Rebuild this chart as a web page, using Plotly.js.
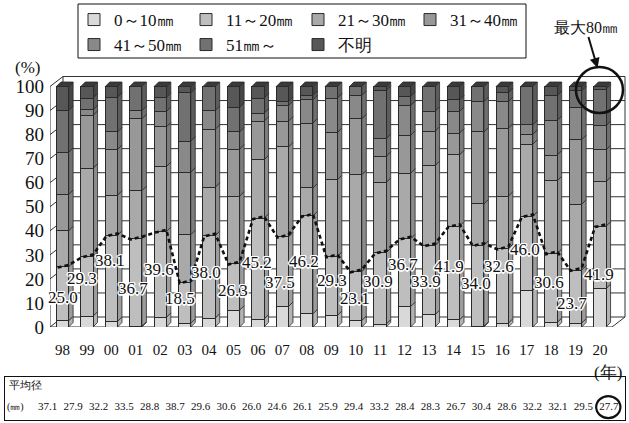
<!DOCTYPE html>
<html><head><meta charset="utf-8">
<script src="https://cdn.plot.ly/plotly-3.0.1.min.js"></script>
<style>html,body{margin:0;padding:0;background:#fff}#chart{width:629px;height:423px}</style>
</head><body><div id="chart"></div>
<script>
// ---------------- data ----------------
const years = ['98','99','00','01','02','03','04','05','06','07','08','09','10','11','12','13','14','15','16','17','18','19','20'];
const sizeClasses = ['0～10㎜','11～20㎜','21～30㎜','31～40㎜','41～50㎜','51㎜～','不明'];
const share0to10  = [2.6,4.5,2.3,0.3,4.0,1.5,3.7,7.0,3.3,8.5,5.5,4.8,2.7,1.2,8.5,5.1,3.0,0.3,1.6,15.3,1.9,1.6,16.0];
const share11to20 = [22.4,24.8,35.8,36.4,35.6,17.0,34.3,19.3,41.9,29.0,40.7,24.5,20.4,29.7,28.2,28.8,38.9,33.7,31.0,30.7,28.7,22.1,25.9];
const share21to30 = [15.0,36.7,16.7,20.0,27.1,19.9,20.1,28.1,24.3,37.4,11.6,31.9,40.2,29.2,27.3,33.2,29.7,17.2,21.8,30.0,30.2,27.3,18.6];
const share31to40 = [15.1,22.0,19.0,29.9,16.5,26.0,24.1,19.6,16.1,10.7,27.0,19.6,23.3,10.9,15.7,14.3,9.0,29.9,28.3,4.1,10.7,26.9,13.1];
const share41to50 = [17.5,2.3,7.3,3.4,6.4,12.9,7.8,7.1,3.3,6.5,9.7,14.4,9.7,7.3,12.4,8.3,9.0,12.6,11.0,4.0,14.4,13.5,10.2];
const share51up   = [17.4,4.9,14.4,10.0,5.9,20.0,10.0,10.3,6.3,1.6,1.7,4.8,3.7,20.1,3.8,10.3,4.8,6.3,3.8,15.9,10.3,6.8,15.1];
const shareUnknown= [10.0,4.8,4.5,0,4.5,2.7,0,8.6,4.8,6.3,3.8,0,0,1.6,4.1,0,5.6,0,2.5,0,3.8,1.8,1.1];
const under20Pct  = [25.0,29.3,38.1,36.7,39.6,18.5,38.0,26.3,45.2,37.5,46.2,29.3,23.1,30.9,36.7,33.9,41.9,34.0,32.6,46.0,30.6,23.7,41.9];
const meanDiameter= [37.1,27.9,32.2,33.5,28.8,38.7,29.6,30.6,26.0,24.6,26.1,25.9,29.4,33.2,28.4,28.3,26.7,30.4,28.6,32.2,32.1,29.5,27.7];
const yTicks = [0,10,20,30,40,50,60,70,80,90,100];

// ---------------- styles / geometry ----------------
const series = [share0to10, share11to20, share21to30, share31to40, share41to50, share51up, shareUnknown];
const fills = ['#d9d9d9','#bebebe','#a9a9a9','#989898','#898989','#717171','#575757'];
const sideFills = ['#b3b3b3','#9c9c9c','#8b8b8b','#7c7c7c','#6f6f6f','#5c5c5c','#464646'];
const labelDx = [0,-5,-1,-3,-1,-5,-3,-1,-1,-2,-3,1,-1,-2,-2,-3,-4,-2,-3,-2,-2,-4,-1];
const labelDy = [31,22,25,50,38,16,37,27,44,46,46,24,27,29,26,36,40,38,18,33,29,33,48];
const W = 629, H = 423;
const PX_X = 24.43, PX_Y = 2.405;
const plotL = 50, plotR = 629, plotB = 327, plotT = 60;
const firstCenter = 62.5;
const xRange = [-(firstCenter - plotL) / PX_X, (plotR - firstCenter) / PX_X];
const yRange = [0, (plotB - plotT) / PX_Y];
const xFrontRight = (612 - firstCenter) / PX_X;
const WDX = 13 / PX_X, WDY = 10 / PX_Y;      // wall depth
const BDX = 4.5 / PX_X, BDY = 4.5 / PX_Y;    // bar depth
const BW = 0.25;                              // half bar width
const SERIF = 'Liberation Serif';
const xIdx = years.map((_, i) => i);

const traces = [];
series.forEach((vals, k) => {
  traces.push({
    type: 'bar', name: sizeClasses[k], x: xIdx, y: vals, width: BW * 2,
    marker: {color: fills[k], line: {color: '#2a2a2a', width: 1}},
    legend: k < 4 ? 'legend' : 'legend2', hoverinfo: 'skip'
  });
});
// dashed line: share of particles up to 20 mm
const lx = [], ly = [];
under20Pct.forEach((v, i) => { lx.push(i - 0.2, i + 0.25); ly.push(v - 0.3, v + 0.8); });
traces.push({type: 'scatter', mode: 'lines', x: lx, y: ly, showlegend: false, hoverinfo: 'skip',
  line: {color: '#111', width: 2.6, dash: '4px,3px'}});
// table of mean diameters
traces.push({type: 'scatter', mode: 'text', x: xIdx, y: xIdx.map(() => 0.3), xaxis: 'x2', yaxis: 'y2',
  text: meanDiameter.map(v => v.toFixed(1)), showlegend: false, hoverinfo: 'skip', cliponaxis: false,
  textfont: {family: SERIF, size: 11, color: '#111'}});

const shapes = [];
const L = (x0, y0, x1, y1, layer) => shapes.push({type: 'line', xref: 'x', yref: 'y', x0, y0, x1, y1,
  layer: layer || 'below', line: {color: '#333', width: 1}});
yTicks.forEach(v => {
  L(xRange[0] + WDX, v + WDY, xFrontRight + WDX, v + WDY);
  L(xRange[0], v, xRange[0] + WDX, v + WDY);
});
L(xRange[0], 0, xRange[0], 100);
L(xRange[0] + WDX, WDY, xRange[0] + WDX, 100 + WDY);
L(xFrontRight + WDX, WDY, xFrontRight + WDX, 100 + WDY);
L(xRange[0], 0, xFrontRight, 0);
L(xFrontRight, 0, xFrontRight + WDX, WDY);

xIdx.forEach(i => {
  let base = 0;
  series.forEach((vals, k) => {
    const v = vals[i];
    if (v <= 0) return;
    const t = base + v;
    const xr = i + BW;
    shapes.push({type: 'path', xref: 'x', yref: 'y', layer: 'between',
      path: `M${xr},${base} L${xr + BDX},${base + BDY} L${xr + BDX},${t + BDY} L${xr},${t} Z`,
      fillcolor: sideFills[k], line: {color: '#2a2a2a', width: 0.8}});
    base = t;
  });
  const xl = i - BW, xr = i + BW;
  shapes.push({type: 'path', xref: 'x', yref: 'y', layer: 'between',
    path: `M${xl},${base} L${xl + BDX},${base + BDY} L${xr + BDX},${base + BDY} L${xr},${base} Z`,
    fillcolor: '#3a3a3a', line: {color: '#2a2a2a', width: 0.8}});
});
shapes.push({type: 'circle', xref: 'x', yref: 'y', layer: 'above', xsizemode: 'pixel', ysizemode: 'pixel',
  xanchor: 22, yanchor: (plotB - 90) / PX_Y, x0: -24, x1: 23, y0: -23, y1: 23, line: {color: '#111', width: 2.5}});
shapes.push({type: 'circle', xref: 'x2', yref: 'y2', layer: 'above', ysizemode: 'pixel',
  yanchor: 0.3, x0: 21.5, x1: 22.45, y0: -11, y1: 11, line: {color: '#111', width: 2.2}});
shapes.push({type: 'rect', xref: 'paper', yref: 'paper', x0: 78 / W, x1: 526 / W, y0: 1 - 58 / H, y1: 1 - 4 / H,
  line: {color: '#111', width: 1}, fillcolor: 'rgba(0,0,0,0)', layer: 'above'});

const halo = '1px 1px 0 #fff,-1px -1px 0 #fff,1px -1px 0 #fff,-1px 1px 0 #fff,0 1.5px 0 #fff,1.5px 0 0 #fff,0 -1.5px 0 #fff,-1.5px 0 0 #fff';
const annotations = under20Pct.map((v, i) => ({
  xref: 'x', yref: 'y', x: i + labelDx[i] / PX_X, y: v, yshift: -labelDy[i], showarrow: false,
  xanchor: 'center', yanchor: 'middle',
  text: v.toFixed(1), font: {family: SERIF, size: 17, color: '#111', shadow: halo}
}));
const note = (x, y, text, size, xa) => annotations.push({xref: 'paper', yref: 'paper', x: x / W, y: 1 - y / H,
  xanchor: xa || 'center', yanchor: 'middle', showarrow: false, text, font: {family: SERIF, size, color: '#111'}});
note(27, 67, '(%)', 17);
note(608, 372, '(年)', 17);
note(7, 385, '平均径', 11, 'left');
note(5, 407, '(㎜)', 10, 'left');
annotations.push({xref: 'x', yref: 'y', x: 21.9, y: (plotB - 68) / PX_Y, ax: -12, ay: -41, showarrow: true,
  arrowhead: 2, arrowsize: 1, arrowwidth: 2, arrowcolor: '#111', text: '最大80㎜',
  font: {family: SERIF, size: 16, color: '#111'}});

const legendBase = {orientation: 'h', xanchor: 'left', yanchor: 'top', entrywidth: 67, entrywidthmode: 'pixels',
  font: {family: SERIF, size: 17, color: '#111'}, bgcolor: 'rgba(0,0,0,0)', borderwidth: 0, traceorder: 'normal'};

const layout = {
  width: W, height: H, margin: {l: 0, r: 0, t: 0, b: 0, pad: 0},
  paper_bgcolor: '#fff', plot_bgcolor: 'rgba(0,0,0,0)', barmode: 'stack', showlegend: true,
  legend: Object.assign({}, legendBase, {x: 74 / W, y: 1 - 2 / H}),
  legend2: Object.assign({}, legendBase, {x: 74 / W, y: 1 - 27 / H}),
  xaxis: {domain: [plotL / W, plotR / W], range: xRange, tickvals: xIdx, ticktext: years, showgrid: false,
    zeroline: false, showline: false, ticks: '', ticklabelstandoff: 12,
    tickfont: {family: SERIF, size: 15, color: '#111'}},
  yaxis: {domain: [(H - plotB) / H, (H - plotT) / H], range: yRange, tickvals: yTicks, showgrid: false,
    zeroline: false, showline: false, ticks: '', ticklabelstandoff: 5,
    tickfont: {family: SERIF, size: 19, color: '#111'}},
  xaxis2: {domain: [5 / W, 625 / W], anchor: 'y2', range: [-42.5 / 25.52, (620 - 42.5) / 25.52],
    showline: true, mirror: true, linecolor: '#111', linewidth: 1, showticklabels: false, showgrid: false,
    zeroline: false, ticks: ''},
  yaxis2: {domain: [3 / H, 46 / H], anchor: 'x2', range: [0, 1], showline: true, mirror: true,
    linecolor: '#111', linewidth: 1, showticklabels: false, showgrid: false, zeroline: false, ticks: ''},
  shapes, annotations
};
Plotly.newPlot('chart', traces, layout, {displayModeBar: false, staticPlot: true});
</script></body></html>
